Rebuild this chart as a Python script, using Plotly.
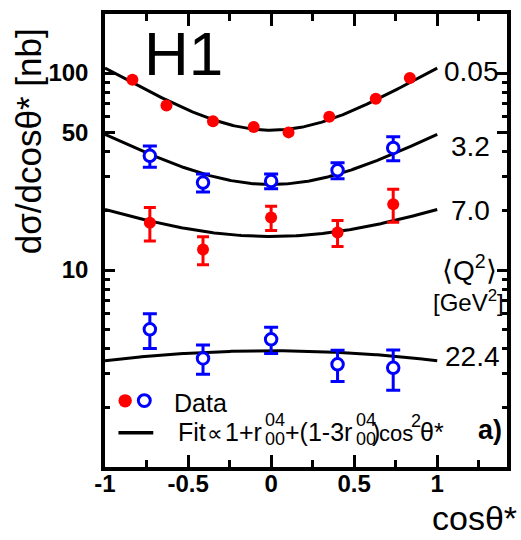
import numpy as np
import plotly.graph_objects as go

# ---- measured angular distributions dsigma/dcos(theta*) [nb] ----
# <Q^2> = 0.05 GeV^2 (photoproduction), 8 bins
x_q005 = [-0.835, -0.63, -0.35, -0.105, 0.105, 0.35, 0.63, 0.835]
y_q005 = [92.5, 68.5, 57.0, 53.3, 50.0, 60.0, 74.0, 94.5]

# DIS samples share the same cos(theta*) bin centres
x_dis = [-0.73, -0.41, 0.0, 0.40, 0.735]
y_q32 = [38.0, 27.8, 28.3, 32.1, 41.7]
e_q32 = [4.7, 2.9, 2.4, 3.0, 5.8]
y_q70 = [17.4, 12.7, 18.5, 15.5, 21.6]
e_q70 = [3.35, 2.05, 2.6, 2.35, 4.1]
y_q224 = [5.0, 3.56, 4.45, 3.32, 3.19]
e_q224 = [1.0, 0.6, 0.68, 0.6, 0.74]

# fitted shapes a + b*cos^2(theta*), one per <Q^2> bin
q2_labels = ["0.05", "3.2", "7.0", "22.4"]
fit_a = [51.3, 27.2, 14.8, 3.89]
fit_b = [54.7, 21.6, 5.5, -0.43]

x_ticks = [-1, -0.5, 0, 0.5, 1]
x_minor = [-0.75, -0.25, 0.25, 0.75, 1.25]
y_ticks = [10, 50, 100]
y_minor = [2, 3, 4, 5, 6, 7, 8, 9, 20, 30, 40, 60, 70, 80, 90, 200]

RED = "#ff0000"
BLUE = "#0000ff"
FONT = "Liberation Sans, Arial, sans-serif"

# plot-area frame in pixels, used to place free text
W, H = 521, 540
L, R, T, B = 105, 509, 10, 467


def px(x):
    return (x - L) / (R - L)


def py(y):
    return (B - y) / (B - T)


fig = go.Figure()

c = np.linspace(-1, 1, 201)
for a, b in zip(fit_a, fit_b):
    fig.add_trace(go.Scatter(x=c, y=a + b * c ** 2, mode="lines",
                             line=dict(color="black", width=3),
                             hoverinfo="skip", showlegend=False))

fig.add_trace(go.Scatter(x=x_q005, y=y_q005, mode="markers",
                         marker=dict(color=RED, size=12, line=dict(width=0)),
                         showlegend=False))


def open_blue(y, e):
    return go.Scatter(x=x_dis, y=y, mode="markers",
                      error_y=dict(type="data", array=e, color=BLUE,
                                   thickness=3, width=7),
                      marker=dict(color="white", size=11.5,
                                  line=dict(color=BLUE, width=3)),
                      showlegend=False)


fig.add_trace(open_blue(y_q32, e_q32))
fig.add_trace(go.Scatter(x=x_dis, y=y_q70, mode="markers",
                         error_y=dict(type="data", array=e_q70, color=RED,
                                      thickness=3, width=6),
                         marker=dict(color=RED, size=12, line=dict(width=0)),
                         showlegend=False))
fig.add_trace(open_blue(y_q224, e_q224))

ann = []


def text(s, x, y, size, xanchor="center", bold=False, **kw):
    ann.append(dict(text=s, x=px(x), y=py(y), xref="paper", yref="paper",
                    xanchor=xanchor, yanchor="middle", showarrow=False,
                    font=dict(family=FONT, size=size, color="black",
                              weight="bold" if bold else "normal"), **kw))


text("H1", 184, 50, 62)

# <Q^2> values next to the curves
for s, (x, y) in zip(q2_labels, [(473, 68), (472, 144), (472, 208), (474, 356)]):
    text(s, x, y, 28)
text("\u27e8Q<sup>2</sup>\u27e9", 471, 266, 28)
text("[GeV<sup>2</sup>]", 470, 300, 24)

# axis titles
text("d\u03c3/dcos\u03b8* [nb]", 29, 138, 35, textangle=-90)
text("cos\u03b8*", 521, 518, 34, xanchor="right")

text("a)", 492, 430, 27, bold=True)

# legend: symbols, then text with stacked r_00^04 indices
text("Data", 172, 402, 25, xanchor="left")
text("Fit", 176, 432, 25, xanchor="left")
text("\u221d", 215.5, 433, 22)
text("1+r", 265, 432, 25, xanchor="right")
text("04", 264, 420, 18, xanchor="left")
text("00", 264, 439, 18, xanchor="left")
text("+(1-3r", 284, 432, 25, xanchor="left")
text("04", 355, 420, 18, xanchor="left")
text("00", 355, 439, 18, xanchor="left")
text(")", 371, 432, 25, xanchor="left")
text("cos", 378, 433, 22, xanchor="left")
text("2", 411, 421, 18, xanchor="left")
text("\u03b8*", 420, 432, 25, xanchor="left")

shapes = [
    dict(type="circle", xref="paper", yref="paper",
         x0=px(118.5), x1=px(132), y0=py(407), y1=py(393.5),
         fillcolor=RED, line=dict(width=0)),
    dict(type="circle", xref="paper", yref="paper",
         x0=px(138.5), x1=px(150.5), y0=py(406), y1=py(394),
         fillcolor="white", line=dict(color=BLUE, width=3)),
    dict(type="line", xref="paper", yref="paper",
         x0=px(118.5), x1=px(153.5), y0=py(432.5), y1=py(432.5),
         line=dict(color="black", width=3.5)),
]

axis_common = dict(showline=True, linecolor="black", linewidth=3.5,
                   mirror="allticks", ticks="inside", tickwidth=3,
                   tickcolor="black", showgrid=False, zeroline=False,
                   tickfont=dict(family=FONT, size=24, color="black",
                                 weight="bold"))

fig.update_layout(
    width=W, height=H,
    margin=dict(l=L, r=W - R, t=T, b=H - B, pad=0),
    plot_bgcolor="white", paper_bgcolor="white",
    showlegend=False,
    xaxis=dict(range=[-1, 1.42], tickmode="array", tickvals=x_ticks,
               ticktext=[f"{v:g}" for v in x_ticks], ticklen=12,
               minor=dict(tickmode="array", tickvals=x_minor, ticks="inside",
                          ticklen=7, tickwidth=3, tickcolor="black"),
               ticklabelstandoff=-8,
               **axis_common),
    yaxis=dict(type="log", range=[0, 2.3], tickmode="array", tickvals=y_ticks,
               ticktext=[str(v) for v in y_ticks], ticklen=10,
               minor=dict(tickmode="array", tickvals=y_minor, ticks="inside",
                          ticklen=5, tickwidth=2.5, tickcolor="black"),
               ticklabelstandoff=8,
               **axis_common),
    annotations=ann,
    shapes=shapes,
)

fig.write_html("out.html")
